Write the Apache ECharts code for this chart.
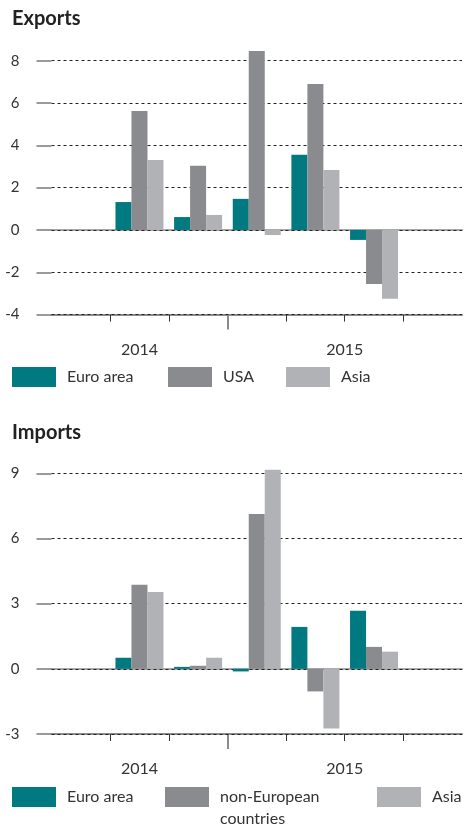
<!DOCTYPE html>
<html>
<head>
<meta charset="utf-8">
<script src="https://cdn.jsdelivr.net/npm/echarts@6/dist/echarts.min.js"></script>
<style>
  html, body { margin: 0; padding: 0; background: #fff; }
  #chart { width: 465px; height: 827px; }
</style>
</head>
<body>
<div id="chart"></div>
<script>
// quarters on the x axis; first and last slot carry no data
const quarters = ['2014 Q2', '2014 Q3', '2014 Q4', '2015 Q1', '2015 Q2', '2015 Q3', '2015 Q4'];
const years = ['2014', '2015'];

const exportsEuro = [null, 1.32, 0.61, 1.47, 3.55, -0.47, null];
const exportsUsa = [null, 5.62, 3.03, 8.46, 6.90, -2.55, null];
const exportsAsia = [null, 3.31, 0.71, -0.24, 2.84, -3.25, null];

const importsEuro = [null, 0.51, 0.09, -0.12, 1.93, 2.67, null];
const importsNonEu = [null, 3.87, 0.14, 7.13, -1.04, 1.01, null];
const importsAsia = [null, 3.54, 0.51, 9.16, -2.75, 0.79, null];

const exportsRange = [-4, 8, 2];
const importsRange = [-3, 9, 3];

const FONT = 'Lato, "Noto Sans", sans-serif';
const TEAL = '#007a80';
const GRAY = '#8a8b8f';
const LIGHT = '#b1b2b6';

// half-quarter positions: year label sits in the middle of its quarters
const halfSteps = quarters.length * 2;
const yearAxisData = new Array(halfSteps + 1).fill('');
const yearBreaks = [];
years.forEach((y) => {
    const idx = quarters.map((q, i) => (q.startsWith(y) ? i : -1)).filter((i) => i >= 0);
    const first = idx[0];
    const last = idx[idx.length - 1];
    yearAxisData[first + last + 1] = y;
    if (first > 0) yearBreaks.push(first * 2);
});

const grids = [
    { left: 51.5, width: 416.5, top: 60.7, height: 253.9 },
    { left: 51.5, width: 416.5, top: 473.3, height: 260.7 },
];

const makeXAxes = (gridIndex) => [
    {
        // bottom axis line, carries the bars
        type: 'category',
        gridIndex,
        data: quarters,
        position: 'bottom',
        axisLine: { onZero: false, lineStyle: { color: '#8c8c8c', width: 2 } },
        axisTick: { show: false },
        axisLabel: { show: false },
        z: 0,
    },
    {
        // zero line
        type: 'category',
        gridIndex,
        data: quarters,
        axisLine: { onZero: true, lineStyle: { color: '#a8a8a8', width: 2 } },
        axisTick: { show: false },
        axisLabel: { show: false },
        z: 0,
    },
    {
        // year labels and year break tick
        type: 'category',
        gridIndex,
        data: yearAxisData,
        boundaryGap: false,
        position: 'bottom',
        axisLine: { show: false, onZero: false },
        axisTick: {
            length: 15,
            interval: (i) => yearBreaks.includes(i),
            lineStyle: { color: '#8c8c8c', width: 2 },
        },
        axisLabel: {
            interval: 0,
            margin: 27,
            fontFamily: FONT,
            fontSize: 16,
            color: '#333',
        },
        z: 0,
    },
    {
        // quarter boundary ticks
        type: 'category',
        gridIndex,
        data: yearAxisData,
        boundaryGap: false,
        position: 'bottom',
        axisLine: { show: false, onZero: false },
        axisTick: {
            length: 7,
            interval: (i) => i % 2 === 0 && i > 0 && i < halfSteps && !yearBreaks.includes(i),
            lineStyle: { color: '#333', width: 1 },
        },
        axisLabel: { show: false },
        z: 0,
    },
];

const makeYAxis = (gridIndex, range) => ({
    type: 'value',
    gridIndex,
    min: range[0],
    max: range[1],
    interval: range[2],
    axisLine: { show: false },
    axisTick: { show: true, length: 15, lineStyle: { color: '#7a7a7a', width: 1.5 } },
    axisLabel: { margin: 32, fontFamily: FONT, fontSize: 15, color: '#333' },
    splitLine: { lineStyle: { color: '#222', width: 1, type: [3, 3] } },
    z: 1,
});

const makeBar = (name, data, color, panel) => ({
    name,
    type: 'bar',
    data,
    xAxisIndex: panel * 4,
    yAxisIndex: panel,
    barWidth: 16,
    barGap: '0%',
    clip: false,
    itemStyle: { color },
    emphasis: { disabled: true },
});

const legendItem = (name, left, top) => ({
    data: [name],
    left,
    top,
    padding: 0,
    itemWidth: 44,
    itemHeight: 20,
    icon: 'rect',
    selectedMode: false,
    formatter: (n) => n.trim().replace('non-European ', '\nnon-European\n'),
    textStyle: {
        fontFamily: FONT,
        fontSize: 16,
        lineHeight: 22,
        color: '#333',
        padding: [0, 0, 0, 6],
    },
});

const chart = echarts.init(document.getElementById('chart'));

chart.setOption({
    animation: false,
    title: [
        { text: 'Exports', left: 7, top: 4, textStyle: { fontFamily: FONT, fontSize: 20, fontWeight: 'bold', color: '#222' } },
        { text: 'Imports', left: 7, top: 418, textStyle: { fontFamily: FONT, fontSize: 20, fontWeight: 'bold', color: '#222' } },
    ],
    grid: grids,
    xAxis: [...makeXAxes(0), ...makeXAxes(1)],
    yAxis: [makeYAxis(0, exportsRange), makeYAxis(1, importsRange)],
    legend: [
        legendItem('Euro area', 12, 366),
        legendItem('USA', 168, 366),
        legendItem('Asia ', 286, 366),
        legendItem('Euro area', 12, 786),
        legendItem('non-European countries', 165, 764),
        legendItem('Asia', 377, 786),
    ],
    series: [
        makeBar('Euro area', exportsEuro, TEAL, 0),
        makeBar('USA', exportsUsa, GRAY, 0),
        makeBar('Asia ', exportsAsia, LIGHT, 0),
        makeBar('Euro area', importsEuro, TEAL, 1),
        makeBar('non-European countries', importsNonEu, GRAY, 1),
        makeBar('Asia', importsAsia, LIGHT, 1),
    ],
});
</script>
</body>
</html>
